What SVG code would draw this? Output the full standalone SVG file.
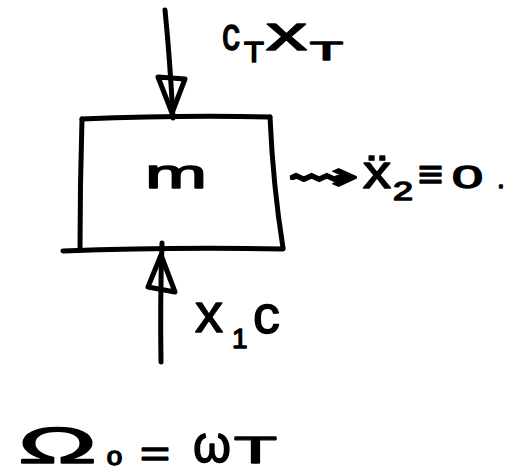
<svg xmlns="http://www.w3.org/2000/svg" width="506" height="475" viewBox="0 0 506 475">
<style>
.s{fill:none;stroke:#000;stroke-width:5;stroke-linecap:round;stroke-linejoin:round}
.t{font-family:"Liberation Sans",Arial,sans-serif;fill:#000;stroke:#000;stroke-width:1.4;stroke-linejoin:round}
.d{font-family:"DejaVu Sans",sans-serif;fill:#000;stroke:#000;stroke-width:1.5;stroke-linejoin:round}
</style>
<rect width="506" height="475" fill="#fff"/>
<g id="mass">
<path class="s" d="M82,119 Q180,115 270,117"/>
<path class="s" d="M82,119 Q80,185 80,250"/>
<path class="s" d="M270,117 Q273,185 283,248"/>
<path class="s" d="M63,251 Q170,247 283,249"/>
<text class="t" x="145" y="188" font-size="40" textLength="62" lengthAdjust="spacingAndGlyphs">m</text>
</g>
<g id="connectors">
<path class="s" d="M165,10 Q170,60 173,118"/>
<polygon class="s" points="158,77 185,79 172,113"/>
<path class="s" d="M161,362 Q160,300 162,243"/>
<polygon class="s" points="148,287 175,292 161,255"/>
</g>
<g id="label-top">
<text class="t" x="222" y="50" font-size="46" textLength="18" lengthAdjust="spacingAndGlyphs">c</text>
<text class="t" x="244" y="62" font-size="30" textLength="20" lengthAdjust="spacingAndGlyphs">T</text>
<text class="t" x="266" y="50" font-size="48" textLength="41" lengthAdjust="spacingAndGlyphs">x</text>
<text class="t" x="310" y="60" font-size="26" textLength="33" lengthAdjust="spacingAndGlyphs">T</text>
</g>
<g id="label-right">
<text class="d" x="287" y="190" font-size="40" textLength="73" lengthAdjust="spacingAndGlyphs">⇝</text>
<text class="t" x="363" y="188" font-size="46" textLength="28" lengthAdjust="spacingAndGlyphs">ẍ</text>
<text class="t" x="393" y="200" font-size="25" textLength="20" lengthAdjust="spacingAndGlyphs">2</text>
<text class="t" x="418" y="188" font-size="40" textLength="25" lengthAdjust="spacingAndGlyphs">≡</text>
<text class="t" x="452" y="188" font-size="32" textLength="31" lengthAdjust="spacingAndGlyphs">0</text>
<text class="t" x="497" y="188" font-size="28">.</text>
</g>
<g id="label-bottom">
<text class="t" x="195" y="332" font-size="56" textLength="28" lengthAdjust="spacingAndGlyphs">x</text>
<text class="t" x="232" y="348" font-size="28">1</text>
<text class="t" x="253" y="333" font-size="54" textLength="27" lengthAdjust="spacingAndGlyphs">c</text>
</g>
<g id="equation">
<text class="t" x="18" y="463" font-size="50" textLength="79" lengthAdjust="spacingAndGlyphs">Ω</text>
<text class="t" x="107" y="465" font-size="20" textLength="15" lengthAdjust="spacingAndGlyphs">0</text>
<text class="t" x="140" y="466" font-size="36" textLength="30" lengthAdjust="spacingAndGlyphs">=</text>
<text class="t" x="193" y="462" font-size="52" textLength="38" lengthAdjust="spacingAndGlyphs">ω</text>
<text class="t" x="234" y="463" font-size="36" textLength="43" lengthAdjust="spacingAndGlyphs">T</text>
</g>
</svg>
